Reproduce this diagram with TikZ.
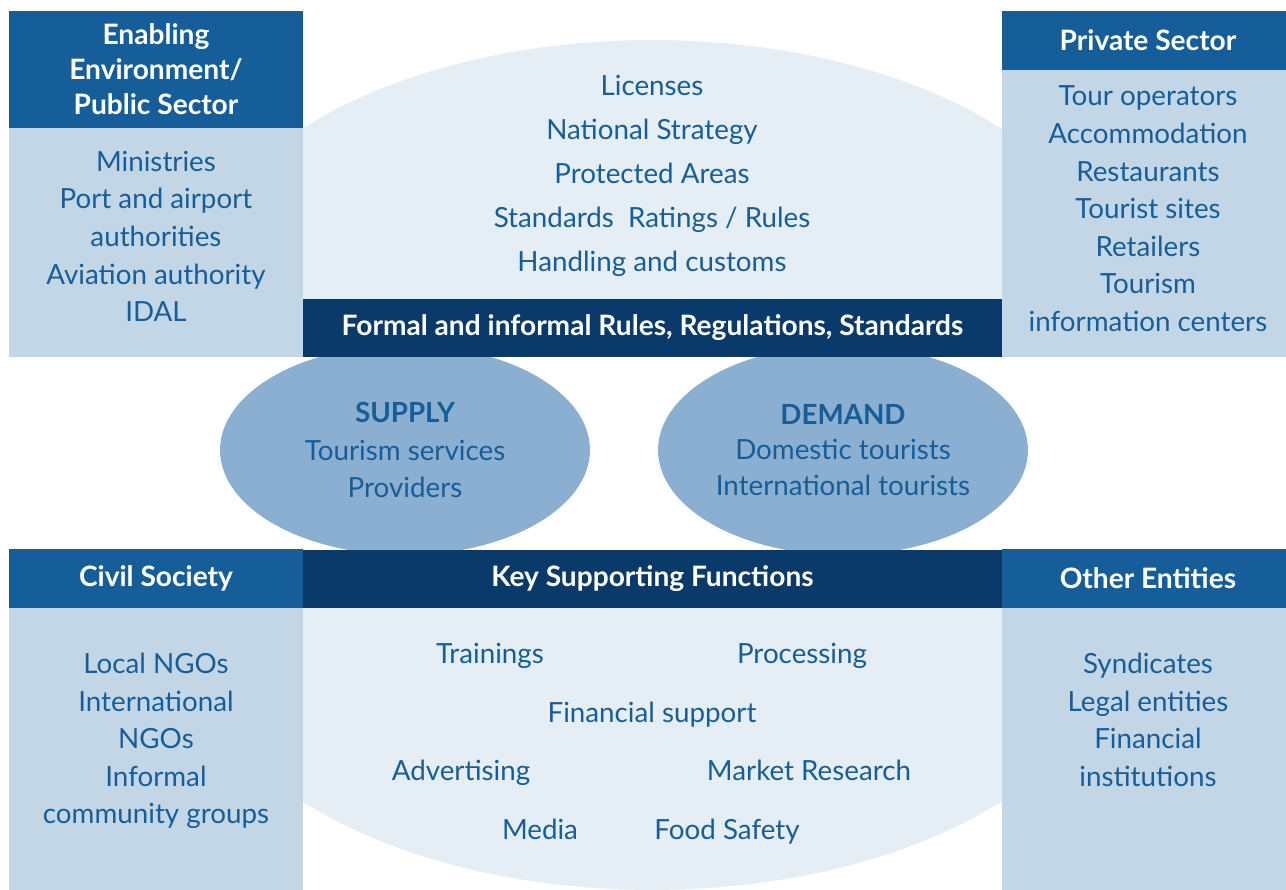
\documentclass[tikz,border=0pt]{standalone}
\usepackage{fontspec}
\setmainfont{Lato}
\usepackage{tikz}
\usetikzlibrary{positioning,shapes.geometric}
\definecolor{hdrblue}{RGB}{22,94,154}
\definecolor{bodyblue}{RGB}{195,214,230}
\definecolor{barnavy}{RGB}{10,58,106}
\definecolor{paleblue}{RGB}{230,238,245}
\definecolor{midblue}{RGB}{138,175,208}

\begin{document}
\begin{tikzpicture}
[x=0.02cm, y=-0.02cm, font=\fontsize{15.8}{21.4}\selectfont,
% STYLES
every node/.style={inner sep=0pt, outer sep=0pt},
% The header style is used for the titles of the four groups of actors
header/.style={rectangle, fill=hdrblue, text=white, align=center, font=\bfseries\fontsize{16}{20}\selectfont},
% The group style is used for the box under each title
group/.style={rectangle, fill=bodyblue},
% The list style is used for the entries in each group
list/.style={text=hdrblue, align=center, anchor=north},
% The bar style is used for the two dark bands across the middle
bar/.style={rectangle, fill=barnavy, text=white, minimum width=13.98cm, minimum height=1.16cm, font=\bfseries\fontsize{16}{18}\selectfont},
% The field style is used for the pale background ellipses
field/.style={ellipse, fill=paleblue, minimum width=18.6cm, minimum height=10.4cm},
% The market style is used for supply and demand
market/.style={ellipse, fill=midblue, text=hdrblue, align=center, minimum width=7.4cm, minimum height=4.2cm},
% The item style is used for single entries
item/.style={text=hdrblue, text height=11.5pt, text depth=3.5pt}]
\useasboundingbox (0,0) rectangle (1286,890);
% Draw background fields
\begin{scope}
\clip (303,0) rectangle (1002,300);
\node [field] (rules-field) at (652,300) {};
\end{scope}
\begin{scope}
\clip (303,608) rectangle (1002,890);
\node [field] (support-field) at (652,630) {};
\end{scope}
% Draw market
\node [market] (supply) at (405,450) {{\bfseries SUPPLY}\\Tourism services\\Providers};
\node [market, font=\fontsize{15.8}{20}\selectfont] (demand) at (843,450) {{\bfseries DEMAND}\\Domestic tourists\\International tourists};
% Draw groups
\node [header, minimum width=5.88cm, minimum height=2.34cm, anchor=north west] (public) at (9,11) {Enabling\\Environment/\\Public Sector};
\node [group, minimum width=5.88cm, minimum height=4.58cm, below=0cm of public] (public-box) {};
\node [header, minimum width=5.68cm, minimum height=1.18cm, anchor=north west] (private) at (1002,11) {\hspace{0.16cm}Private Sector};
\node [group, minimum width=5.68cm, minimum height=5.74cm, below=0cm of private] (private-box) {};
\node [header, minimum width=5.88cm, minimum height=1.18cm, anchor=north west] (civil) at (9,549) {Civil Society};
\node [group, minimum width=5.88cm, minimum height=5.64cm, below=0cm of civil] (civil-box) {};
\node [header, minimum width=5.68cm, minimum height=1.18cm, anchor=north west] (other) at (1002,549) {\hspace{0.16cm}Other Entities};
\node [group, minimum width=5.68cm, minimum height=5.64cm, below=0cm of other] (other-box) {};
% Draw bars
\node [bar, anchor=north west] (rules) at (303,299) {Formal and informal Rules, Regulations, Standards};
\node [bar, anchor=north west] (support) at (303,550) {Key Supporting Functions};
%%%%%%%%%%%%%%%
% Lists of the groups
\node [list, below=0.46cm of public] (public-list) {Ministries\\Port and airport\\authorities\\Aviation authority\\IDAL};
\node [list, below=0.32cm of private, xshift=0.08cm] (private-list) {Tour operators\\Accommodation\\Restaurants\\Tourist sites\\Retailers\\Tourism\\information centers};
\node [list, below=0.9cm of civil] (civil-list) {Local NGOs\\International\\NGOs\\Informal\\community groups};
\node [list, below=0.9cm of other, xshift=0.08cm] (other-list) {Syndicates\\Legal entities\\Financial\\institutions};
% Rules and regulations
\node [list, anchor=center, font=\fontsize{15.8}{25}\selectfont] (rules-list) at (652,176) {Licenses\\National Strategy\\Protected Areas\\Standards\ \ Ratings / Rules\\Handling and customs};
% Supporting functions
\node [item] (trainings) at (490,656) {Trainings};
\node [item] (processing) at (802,656) {Processing};
\node [item] (finance) at (652,715) {Financial support};
\node [item] (advertising) at (461,773) {Advertising};
\node [item] (research) at (809,773) {Market Research};
\node [item] (media) at (540,832) {Media};
\node [item] (food) at (727,832) {Food Safety};
\end{tikzpicture}
\end{document}
